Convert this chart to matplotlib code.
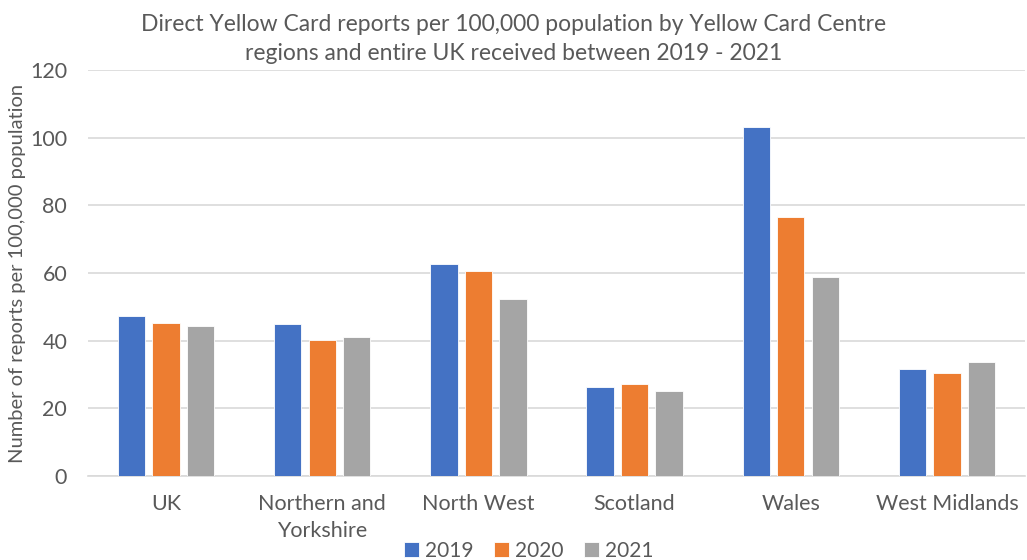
import matplotlib
matplotlib.use("Agg")
import matplotlib.pyplot as plt
import numpy as np

categories = ["UK", "Northern and\nYorkshire", "North West", "Scotland", "Wales", "West Midlands"]
years = ["2019", "2020", "2021"]
v2019 = [47.3, 44.9, 62.7, 26.2, 103.2, 31.7]
v2020 = [45.1, 40.3, 60.6, 27.3, 76.6, 30.5]
v2021 = [44.2, 41.0, 52.2, 25.1, 58.8, 33.8]
colors = ["#4472C4", "#ED7D31", "#A5A5A5"]

plt.rcParams['font.family'] = ['Lato', 'DejaVu Sans']
txt = "#595959"

fig = plt.figure(figsize=(10.27, 5.6), dpi=100)
ax = fig.add_axes([88/1027, 1-476/560, (1025-88)/1027, (476-70)/560])

x = np.arange(len(categories))
w = 0.175
step = 0.221
for i, (vals, c, lab) in enumerate(zip([v2019, v2020, v2021], colors, years)):
    ax.bar(x + (i-1)*step, vals, width=w, color=c, label=lab, edgecolor="white", linewidth=0.6, zorder=3)

ax.set_xlim(-0.5, len(categories)-0.5)
ax.set_ylim(0, 120)
ax.set_yticks(range(0, 121, 20))
ax.yaxis.grid(True, color="#D9D9D9", linewidth=1.2, zorder=0)
ax.set_axisbelow(True)
for s in ["left", "right", "top"]:
    ax.spines[s].set_visible(False)
ax.spines["bottom"].set_color("#D9D9D9")
ax.spines["bottom"].set_linewidth(1.2)
ax.tick_params(axis="both", length=0, colors=txt, labelsize=15.5)
ax.tick_params(axis="x", pad=13)
ax.tick_params(axis="y", pad=15)
ax.set_xticks(x)
ax.set_xticklabels(categories, linespacing=1.45)
ax.set_ylabel("Number of reports per 100,000 population", color=txt, fontsize=14.5, labelpad=3)

fig.suptitle("Direct Yellow Card reports per 100,000 population by Yellow Card Centre\nregions and entire UK received between 2019 - 2021",
             color=txt, fontsize=16.5, x=0.5, y=0.975, linespacing=1.45)

leg = fig.legend(loc="lower center", bbox_to_anchor=(0.515, -0.035), ncol=3, frameon=False,
                 fontsize=15, handlelength=0.7, handleheight=0.7, handletextpad=0.3, columnspacing=1.0)
for t in leg.get_texts():
    t.set_color(txt)

fig.savefig("out.png", dpi=100)
